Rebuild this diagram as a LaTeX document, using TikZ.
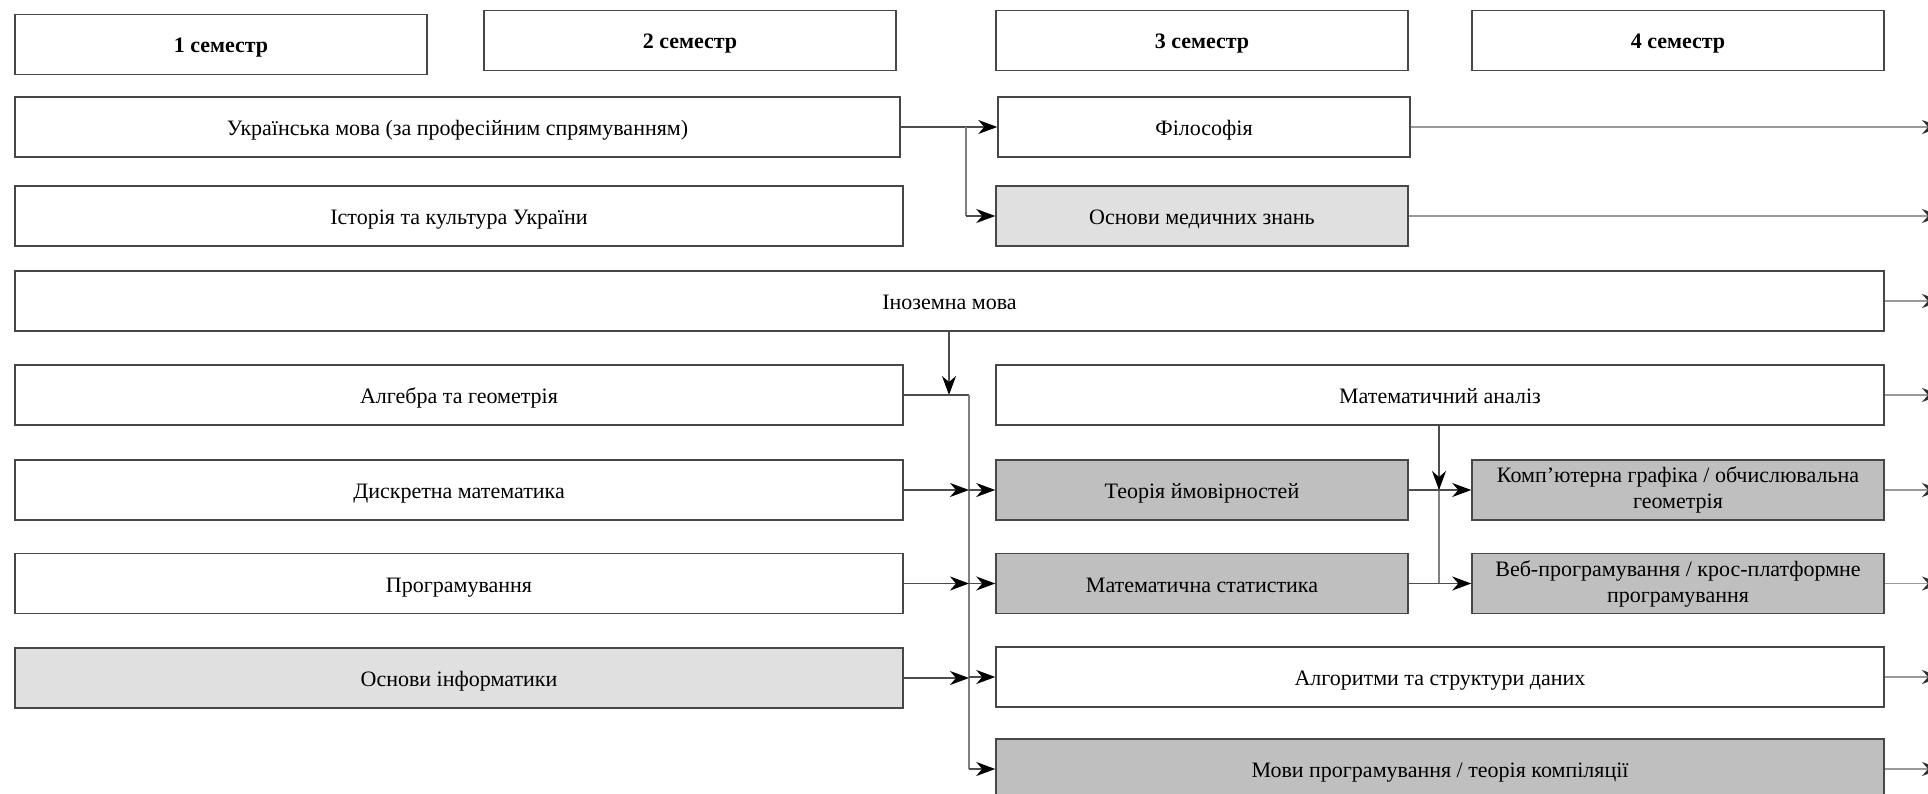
\documentclass[tikz,border=0pt]{standalone}
\usepackage{fontspec}
\setmainfont{Liberation Serif}
\usetikzlibrary{arrows.meta}
\tikzset{
 box/.style={draw=black!72, line width=1.5pt, fill=white, minimum height=60pt, inner sep=0pt, font=\fontsize{22}{26}\selectfont, align=center, text height=17pt, text depth=0pt},
 lite/.style={box, fill=black!12},
 dark/.style={box, fill=black!25},
 two/.style={text height=, text depth=, yshift=0pt},
 hdr/.style={box, font=\bfseries\fontsize{22}{25}\selectfont},
 con/.style={draw=black!70, line width=1.2pt},
 bus/.style={draw=black!50, line width=1.8pt},
 arr/.style={con, -{Stealth[length=19pt,width=14pt,inset=6pt,black]}},
 outarr/.style={draw=black!40, line width=1.2pt, -{Stealth[length=19pt,width=14pt,inset=6pt,black!80]}},
}
\begin{document}
\begin{tikzpicture}[x=1pt,y=-1pt]
\useasboundingbox[fill=white] (0,0) rectangle (1928,794);
% headers
\node[hdr, minimum width=412pt] (h1) at (221,44.5) {1 семестр};
\node[hdr, minimum width=412pt] (h2) at (690,40.5) {2 семестр};
\node[hdr, minimum width=412pt] (h3) at (1202,40.5) {3 семестр};
\node[hdr, minimum width=412pt] (h4) at (1678,40.5) {4 семестр};
% rows
\node[box, minimum width=885pt] (ukr) at (457.5,127) {Українська мова (за професійним спрямуванням)};
\node[box, minimum width=412pt] (phil) at (1204,127) {Філософія};
\node[box, minimum width=888pt] (hist) at (459,216) {Історія та культура України};
\node[lite, minimum width=412pt] (med) at (1202,216) {Основи медичних знань};
\node[box, minimum width=1869pt] (foreign) at (949.5,301) {Іноземна мова};
\node[box, minimum width=888pt] (alg) at (459,395) {Алгебра та геометрія};
\node[box, minimum width=888pt] (anal) at (1440,395) {Математичний аналіз};
\node[box, minimum width=888pt] (disc) at (459,490) {Дискретна математика};
\node[dark, minimum width=412pt] (prob) at (1202,490) {Теорія ймовірностей};
\node[dark, two, minimum width=412pt] (graph) at (1678,490) {Комп’ютерна графіка / обчислювальна\\геометрія};
\node[box, minimum width=888pt] (prog) at (459,583.5) {Програмування};
\node[dark, minimum width=412pt] (stat) at (1202,583.5) {Математична статистика};
\node[dark, two, minimum width=412pt] (web) at (1678,583.5) {Веб-програмування / крос-платформне\\програмування};
\node[lite, minimum width=888pt] (inf) at (459,678) {Основи інформатики};
\node[box, minimum width=888pt] (algo) at (1440,677) {Алгоритми та структури даних};
\node[dark, minimum width=888pt] (lang) at (1440,769) {Мови програмування / теорія компіляції};
% connectors
\coordinate (j1) at (966,127);
\draw[arr] (ukr.east) -- (phil.west);
\draw[bus] (j1) -- (j1 |- med.west);
\draw[arr] (j1 |- med.west) -- (med.west);
\coordinate (fa) at (949,395);
\draw[arr] (foreign.south -| fa) -- (fa);
\coordinate (b0) at (969,395);
\draw[con] (alg.east) -- (b0);
\draw[bus] (b0) -- (b0 |- lang.west);
\draw[arr] (b0 |- lang.west) -- (lang.west);
\draw[arr] (b0 |- prob.west) -- (prob.west);
\draw[arr] (b0 |- stat.west) -- (stat.west);
\draw[arr] (b0 |- algo.west) -- (algo.west);
\draw[arr] (disc.east) -- (b0 |- disc.east);
\draw[arr] (prog.east) -- (b0 |- prog.east);
\draw[arr] (inf.east) -- (b0 |- inf.east);
\coordinate (m0) at (1439,490);
\draw[bus] (anal.south -| m0) -- (m0 |- stat.east);
\draw[arr] (anal.south -| m0) -- (m0);
\draw[arr] (prob.east) -- (graph.west);
\draw[arr] (stat.east) -- (web.west);
\coordinate (R) at (1941,0);
\foreach \n in {phil,med,foreign,anal,graph,web,algo,lang}
  \draw[outarr] (\n.east) -- (\n.east -| R);
\end{tikzpicture}
\end{document}
